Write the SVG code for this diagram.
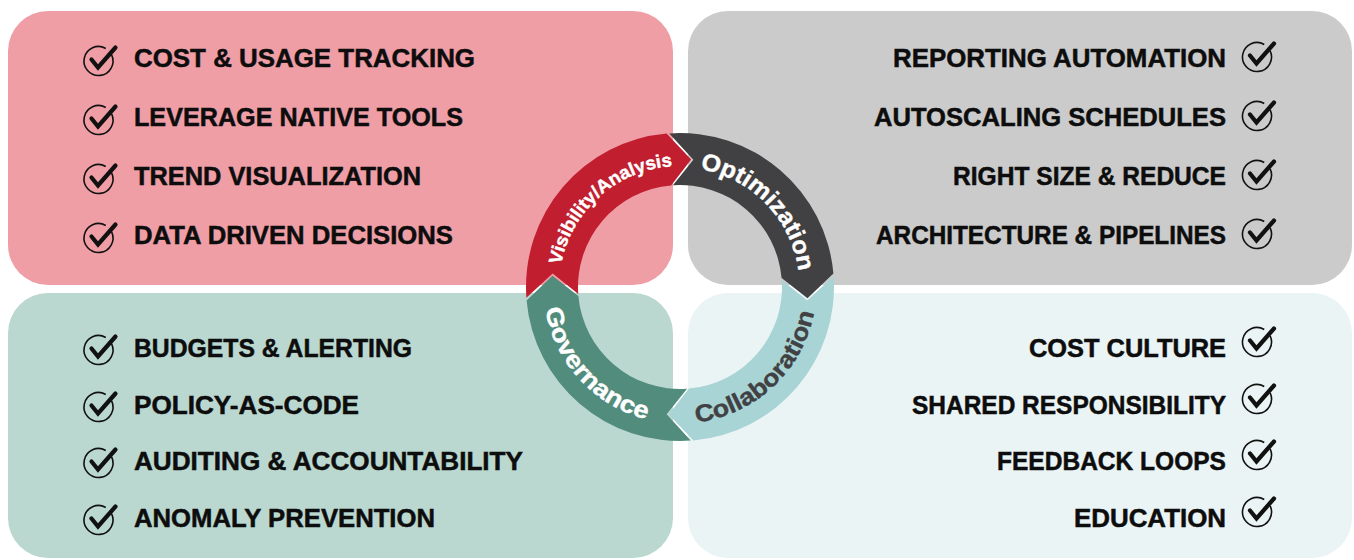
<svg xmlns="http://www.w3.org/2000/svg" xmlns:xlink="http://www.w3.org/1999/xlink" width="1354" height="560" viewBox="0 0 1354 560">
<style>
.item{font-family:"Liberation Sans",Arial,sans-serif;font-weight:bold;font-size:25.5px;fill:#0d0d0d;stroke:#0d0d0d;stroke-width:0.5px;}
.ring{font-family:"Liberation Sans",Arial,sans-serif;font-weight:bold;stroke-width:0.4px;}
.chk{fill:none;stroke:#111;}
</style>
<defs>
<g id="check">
<path class="chk" stroke-width="1.6" d="M13.14,-6.13 A14.5,14.5 0 1 1 7.25,-12.56"/>
<path class="chk" stroke-width="4.2" stroke-linejoin="miter" stroke-linecap="round" d="M-7,-1.5 L-0.5,6.5 L17,-13.5"/>
</g>
<path id="pVis" d="M561.43,311.12 A121,121 0 0 1 718.39,172.25"/>
<path id="pOpt" d="M651.09,171.05 A119.5,119.5 0 0 1 794.87,319.94"/>
<path id="pCol" d="M640.09,417.54 A136.5,136.5 0 0 0 813.0,256.29"/>
<path id="pGov" d="M549.82,245.95 A136.5,136.5 0 0 0 709.54,420.26"/>
</defs>
<rect width="1354" height="560" fill="#ffffff"/>

<g id="panel-visibility">
<rect x="8" y="11" width="665" height="274" rx="40" fill="#F09EA6"/>
<use xlink:href="#check" x="98.5" y="61"/>
<use xlink:href="#check" x="98.5" y="120"/>
<use xlink:href="#check" x="98.5" y="179"/>
<use xlink:href="#check" x="98.5" y="238"/>
<text class="item" x="134" y="67" textLength="341" lengthAdjust="spacingAndGlyphs">COST &amp; USAGE TRACKING</text>
<text class="item" x="134" y="126" textLength="329" lengthAdjust="spacingAndGlyphs">LEVERAGE NATIVE TOOLS</text>
<text class="item" x="134" y="185" textLength="287" lengthAdjust="spacingAndGlyphs">TREND VISUALIZATION</text>
<text class="item" x="134" y="244" textLength="319" lengthAdjust="spacingAndGlyphs">DATA DRIVEN DECISIONS</text>
</g>

<g id="panel-optimization">
<rect x="688" y="11" width="664" height="274" rx="40" fill="#CBCBCB"/>
<use xlink:href="#check" x="1257" y="57"/>
<use xlink:href="#check" x="1257" y="116"/>
<use xlink:href="#check" x="1257" y="175"/>
<use xlink:href="#check" x="1257" y="234"/>
<text class="item" x="1226" y="67" text-anchor="end" textLength="333" lengthAdjust="spacingAndGlyphs">REPORTING AUTOMATION</text>
<text class="item" x="1226" y="126" text-anchor="end" textLength="352" lengthAdjust="spacingAndGlyphs">AUTOSCALING SCHEDULES</text>
<text class="item" x="1226" y="185" text-anchor="end" textLength="273" lengthAdjust="spacingAndGlyphs">RIGHT SIZE &amp; REDUCE</text>
<text class="item" x="1226" y="244" text-anchor="end" textLength="350" lengthAdjust="spacingAndGlyphs">ARCHITECTURE &amp; PIPELINES</text>
</g>

<g id="panel-governance">
<rect x="8" y="293" width="665" height="265" rx="40" fill="#BAD8D0"/>
<use xlink:href="#check" x="98.5" y="350"/>
<use xlink:href="#check" x="98.5" y="407"/>
<use xlink:href="#check" x="98.5" y="463"/>
<use xlink:href="#check" x="98.5" y="520"/>
<text class="item" x="134" y="357" textLength="278" lengthAdjust="spacingAndGlyphs">BUDGETS &amp; ALERTING</text>
<text class="item" x="134" y="414" textLength="225" lengthAdjust="spacingAndGlyphs">POLICY-AS-CODE</text>
<text class="item" x="134" y="470" textLength="389" lengthAdjust="spacingAndGlyphs">AUDITING &amp; ACCOUNTABILITY</text>
<text class="item" x="134" y="527" textLength="301" lengthAdjust="spacingAndGlyphs">ANOMALY PREVENTION</text>
</g>

<g id="panel-collaboration">
<rect x="688" y="293" width="664" height="265" rx="40" fill="#EAF4F5"/>
<use xlink:href="#check" x="1257" y="342"/>
<use xlink:href="#check" x="1257" y="399"/>
<use xlink:href="#check" x="1257" y="455"/>
<use xlink:href="#check" x="1257" y="512"/>
<text class="item" x="1226" y="357" text-anchor="end" textLength="197" lengthAdjust="spacingAndGlyphs">COST CULTURE</text>
<text class="item" x="1226" y="414" text-anchor="end" textLength="314" lengthAdjust="spacingAndGlyphs">SHARED RESPONSIBILITY</text>
<text class="item" x="1226" y="470" text-anchor="end" textLength="229" lengthAdjust="spacingAndGlyphs">FEEDBACK LOOPS</text>
<text class="item" x="1226" y="527" text-anchor="end" textLength="152" lengthAdjust="spacingAndGlyphs">EDUCATION</text>
</g>

<g id="connectors">
<g id="arrow-visibility">
<path fill="#C11F2F" d="M526.38,297.74 A154,154 0 0 1 666.58,133.59 L691.16,159.49 L671.11,185.39 A102,102 0 0 0 578.25,294.12 L552.70,273.62 Z"/>
<text class="ring" font-size="18.5" fill="#ffffff" stroke="#ffffff"><textPath xlink:href="#pVis" startOffset="50%" text-anchor="middle" textLength="160" lengthAdjust="spacingAndGlyphs">Visibility/Analysis</textPath></text>
</g>
<g id="arrow-optimization">
<path fill="#414042" d="M669.26,133.38 A154,154 0 0 1 833.41,273.58 L807.51,298.16 L781.61,278.11 A102,102 0 0 0 672.88,185.25 L693.38,159.70 Z"/>
<text class="ring" font-size="24" fill="#ffffff" stroke="#ffffff"><textPath xlink:href="#pOpt" startOffset="50%" text-anchor="middle" textLength="152" lengthAdjust="spacingAndGlyphs">Optimization</textPath></text>
</g>
<g id="arrow-collaboration">
<path fill="#A8D4D6" d="M833.62,276.26 A154,154 0 0 1 693.42,440.41 L668.84,414.51 L688.89,388.61 A102,102 0 0 0 781.75,279.88 L807.30,300.38 Z"/>
<text class="ring" font-size="24" fill="#414042" stroke="#414042"><textPath xlink:href="#pCol" startOffset="50%" text-anchor="middle" textLength="172" lengthAdjust="spacingAndGlyphs">Collaboration</textPath></text>
</g>
<g id="arrow-governance">
<path fill="#528C7C" d="M690.74,440.62 A154,154 0 0 1 526.59,300.42 L552.49,275.84 L578.39,295.89 A102,102 0 0 0 687.12,388.75 L666.62,414.30 Z"/>
<text class="ring" font-size="24" fill="#ffffff" stroke="#ffffff"><textPath xlink:href="#pGov" startOffset="50%" text-anchor="middle" textLength="158" lengthAdjust="spacingAndGlyphs">Governance</textPath></text>
</g>
</g>
</svg>
